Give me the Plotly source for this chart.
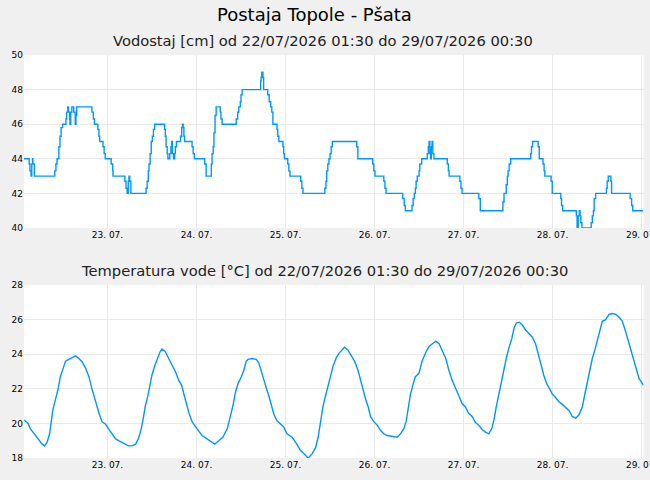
import pandas as pd
import plotly.graph_objects as go

# ---- data -------------------------------------------------------------
# hours after 22/07/2026 00:00 at which the water level changes (step data)
water_hours = [1.5, 2.9, 3.1, 3.4, 3.6, 3.8, 3.9, 4.3, 9.8, 10.1, 10.4, 10.9, 11.2, 11.5, 11.9,
               12.8, 13.0, 13.3, 13.5, 13.8, 13.9, 14.1, 14.4, 14.9, 15.3, 15.5, 15.7, 19.8, 20.2,
               20.5, 21.4, 21.7, 21.9, 22.8, 23.1, 23.4, 25.0, 25.4, 25.5, 28.7, 29.0, 29.3, 29.6,
               29.8, 30.0, 30.3, 34.4, 34.7, 35.0, 35.2, 35.5, 35.8, 36.1, 36.4, 36.7, 39.4, 39.6,
               39.8, 40.1, 40.3, 40.8, 41.1, 41.3, 41.5, 41.8, 42.1, 42.3, 42.6, 43.7, 44.0, 44.2,
               44.4, 44.6, 44.8, 46.8, 47.1, 47.4, 50.2, 50.6, 52.0, 52.2, 52.5, 52.7, 53.0, 53.3,
               54.4, 54.6, 54.9, 58.7, 59.1, 59.4, 59.8, 60.0, 60.3, 65.3, 65.4, 65.6, 65.9, 66.1,
               67.2, 67.6, 68.0, 68.3, 68.6, 69.7, 69.9, 70.2, 71.3, 71.5, 71.7, 72.6, 72.9, 73.2,
               76.1, 76.4, 76.7, 82.6, 82.9, 83.1, 83.4, 83.7, 84.0, 84.3, 84.6, 91.2, 91.5, 95.5,
               95.8, 96.1, 98.5, 98.8, 99.1, 103.6, 104.0, 104.3, 106.1, 106.4, 106.7, 107.0, 107.2,
               107.5, 108.0, 108.2, 108.7, 110.2, 110.5, 110.7, 110.9, 111.1, 111.3, 111.5, 111.7,
               112.0, 115.6, 115.9, 116.1, 119.0, 119.3, 119.6, 124.1, 124.5, 130.6, 130.9, 131.5,
               131.8, 132.0, 132.3, 132.7, 138.1, 138.3, 138.6, 140.1, 140.4, 141.4, 141.7, 141.9,
               143.6, 143.9, 146.2, 146.4, 146.7, 150.4, 150.6, 150.9, 151.2, 151.4, 151.6, 151.9,
               154.4, 154.7, 155.0, 155.2, 155.6, 158.5, 158.7, 159.0, 159.7, 159.9, 164.9, 165.3,
               165.6, 168.5]
water_cm = [44, 43.7, 43.3, 43, 43.7, 44, 43.7, 43, 43.3, 43.7, 44, 44.7, 45.3, 45.8, 46,
            46.3, 46.7, 47, 46.7, 46.3, 46, 46.7, 47, 46.7, 46, 46.5, 47, 46.7, 46.3,
            46, 45.7, 45.3, 45, 44.7, 44.3, 44, 43.7, 43.3, 43, 42.7, 42.3, 42, 42.7,
            43, 42.7, 42, 42.3, 42.7, 43.3, 43.7, 44.3, 45, 45.3, 45.7, 46, 45.7, 45.3,
            44.7, 44.3, 44, 44.3, 44.7, 45, 44.3, 44, 44.3, 44.7, 45, 45.3, 45.8, 46,
            45.8, 45.3, 45, 44.7, 44.3, 44, 43.7, 43, 43.7, 44.3, 44.7, 45.5, 46.5, 47,
            46.7, 46.3, 46, 46.3, 46.7, 47, 47.3, 47.7, 48, 48.5, 48.7, 49, 48.7, 48,
            47.7, 47.3, 47, 46.7, 46, 45.7, 45.3, 45, 44.7, 44.3, 44, 43.7, 43.3, 43,
            42.7, 42.3, 42, 42.3, 42.7, 43.3, 43.7, 44, 44.3, 44.7, 45, 44.7, 44, 43.7,
            43.3, 43, 42.7, 42.3, 42, 41.7, 41.3, 41, 41.3, 41.7, 42, 42.3, 42.7,
            43, 43.3, 43.7, 44, 44.3, 44.7, 45, 44.3, 44, 44.7, 45, 44.3,
            44, 43.7, 43.3, 43, 42.7, 42.3, 42, 41.7, 41, 41.5, 42, 42.5,
            43, 43.3, 43.7, 44, 44.3, 44.7, 45, 44.7, 44, 43.7, 43.3, 43,
            42.7, 42, 41.7, 41.3, 41, 40.7, 40, 40.7, 41, 40.7, 40.3, 40,
            40.3, 40.7, 41, 41.7, 42, 42.3, 42.7, 43, 42.7, 42, 41.7, 41.3,
            41, 41]

# hours after 22/07/2026 00:00 for the water temperature readings
temp_hours = [1.5, 2.6, 3.2, 4.6, 5.5, 6.4, 7.0, 7.7, 8.4, 8.9, 9.3, 10.0, 10.7, 11.3, 12.0,
              12.7, 13.6, 14.5, 15.4, 16.3, 17.2, 18.1, 19.0, 19.7, 20.3, 20.9, 21.7, 22.5,
              23.5, 24.4, 25.2, 26.2, 27.0, 27.9, 28.9, 29.7, 30.6, 31.6, 32.3, 32.9, 33.5,
              34.2, 34.9, 35.4, 36.0, 36.7, 37.4, 38.1, 38.7, 39.6, 40.5, 41.4, 42.3, 43.2,
              44.0, 44.6, 45.2, 45.9, 46.8, 47.7, 48.6, 49.5, 50.9, 51.8, 52.9, 54.0, 55.1,
              56.3, 57.2, 57.8, 58.5, 59.2, 60.1, 60.8, 61.4, 61.9, 63.0, 64.1, 64.8, 65.7,
              66.6, 67.5, 68.2, 68.9, 69.7, 70.7, 71.5, 72.4, 73.8, 74.9, 76.0, 77.2, 78.1,
              79.2, 80.1, 80.8, 81.4, 82.1, 82.8, 83.4, 84.1, 84.8, 85.7, 86.4, 87.3, 87.9,
              88.8, 89.7, 90.6, 91.5, 92.2, 92.9, 93.6, 94.3, 94.9, 95.8, 96.7, 97.6, 98.5,
              99.4, 100.8, 102.1, 103.0, 103.9, 104.5, 105.1, 105.7, 106.3, 107.0, 108.0,
              108.8, 109.8, 110.7, 111.6, 112.5, 113.4, 114.2, 115.2, 116.0, 116.9, 117.9,
              118.8, 119.6, 120.5, 121.3, 122.3, 123.2, 124.1, 125.0, 125.9, 126.8, 127.6,
              128.2, 128.8, 129.5, 130.3, 130.9, 131.5, 132.2, 133.0, 133.6, 134.2, 135.0,
              135.8, 136.7, 137.6, 138.5, 139.4, 140.3, 141.0, 141.6, 142.4, 143.2, 143.9,
              144.8, 145.7, 146.6, 147.5, 148.4, 149.3, 150.2, 151.1, 152.0, 152.7, 153.4,
              154.0, 154.7, 155.4, 156.0, 156.7, 157.4, 158.3, 159.2, 160.1, 161.0, 161.9,
              162.8, 163.7, 164.6, 165.5, 166.4, 167.3, 168.5]
temp_c = [20.2, 20.0, 19.7, 19.3, 19.0, 18.8, 18.7, 18.9, 19.4, 20.1, 20.8, 21.4, 22.0, 22.7, 23.1,
          23.6, 23.7, 23.8, 23.9, 23.75, 23.55, 23.2, 22.7, 22.1, 21.6, 21.15, 20.6, 20.1,
          19.95, 19.65, 19.4, 19.1, 19.0, 18.9, 18.8, 18.7, 18.7, 18.8, 19.1, 19.5, 20.1,
          21.0, 21.6, 22.2, 22.8, 23.3, 23.75, 24.1, 24.3, 24.15, 23.75, 23.4, 23.0, 22.5,
          22.2, 21.7, 21.15, 20.65, 20.1, 19.8, 19.55, 19.3, 19.1, 19.0, 18.8, 19.0, 19.2,
          19.7, 20.4, 21.0, 21.8, 22.3, 22.7, 23.1, 23.6, 23.7, 23.75, 23.7, 23.5, 22.8,
          22.2, 21.6, 21.05, 20.5, 20.15, 19.95, 19.8, 19.4, 19.2, 18.85, 18.45, 18.2, 18.0,
          18.25, 18.6, 19.2, 20.1, 21.0, 21.6, 22.2, 22.7, 23.3, 23.8, 24.05, 24.25, 24.4,
          24.25, 23.95, 23.6, 23.1, 22.5, 22.0, 21.4, 20.95, 20.4, 20.1, 19.9, 19.6, 19.4,
          19.3, 19.25, 19.2, 19.4, 19.7, 20.1, 21.0, 21.7, 22.2, 22.7, 22.9,
          23.6, 24.1, 24.45, 24.6, 24.75, 24.6, 24.25, 23.75, 23.1, 22.5, 22.0,
          21.55, 21.15, 20.95, 20.6, 20.4, 20.05, 19.9, 19.65, 19.5, 19.4, 19.7,
          20.2, 20.95, 21.7, 22.4, 23.2, 23.75, 24.35, 24.9, 25.5, 25.8, 25.85,
          25.7, 25.4, 25.2, 25.0, 24.6, 23.95, 23.3, 22.8, 22.3, 22.0, 21.7,
          21.5, 21.25, 21.1, 20.95, 20.75, 20.4, 20.3, 20.5, 20.95, 21.7, 22.4,
          23.1, 23.75, 24.25, 24.7, 25.3, 25.9, 26.0, 26.3, 26.35, 26.3, 26.15,
          25.9, 25.3, 24.6, 23.85, 23.15, 22.6, 22.2]

station_title = "Postaja Topole - Pšata"
title_level = "Vodostaj [cm] od 22/07/2026 01:30 do 29/07/2026 00:30"
title_temp = "Temperatura vode [°C] od 22/07/2026 01:30 do 29/07/2026 00:30"
x_start, x_end = "2026-07-22 01:30", "2026-07-29 00:30"
level_ticks = [40, 42, 44, 46, 48, 50]
temp_ticks = [18, 20, 22, 24, 26, 28]

# ---- build ------------------------------------------------------------
base = pd.Timestamp("2026-07-22 00:00")
water_t = base + pd.to_timedelta(water_hours, unit="h")
temp_t = base + pd.to_timedelta(temp_hours, unit="h")

LINE = "#0096ff"
FONT = "DejaVu Sans"
W, H = 650, 480

fig = go.Figure()
fig.add_trace(go.Scatter(x=water_t, y=water_cm, mode="lines", line_shape="hv",
                         line=dict(color=LINE, width=1.4), xaxis="x", yaxis="y",
                         showlegend=False, hoverinfo="skip"))
fig.add_trace(go.Scatter(x=temp_t, y=temp_c, mode="lines",
                         line=dict(color=LINE, width=1.4), xaxis="x2", yaxis="y2",
                         showlegend=False, hoverinfo="skip"))

xd = [24 / W, 643.5 / W]
common_x = dict(type="date", range=[x_start, x_end], dtick=86400000,
                tick0="2026-07-23 00:00", tickformat="%d. %m.", showgrid=True,
                gridcolor="#e9e9e9", gridwidth=1, zeroline=False, showline=False,
                ticks="", ticklabeloverflow="allow",
                tickfont=dict(family=FONT, size=9, color="#000"),
                automargin=False, fixedrange=True, domain=xd)
common_y = dict(showgrid=True, gridcolor="#e9e9e9", gridwidth=1, zeroline=False,
                showline=False, ticks="", tickfont=dict(family=FONT, size=9, color="#000"),
                automargin=False, fixedrange=True)

fig.update_layout(
    width=W, height=H,
    margin=dict(l=0, r=0, t=0, b=0),
    paper_bgcolor="#f0f0f0", plot_bgcolor="#ffffff",
    font=dict(family=FONT),
    xaxis=dict(common_x, anchor="y"),
    yaxis=dict(common_y, range=[40, 50], tickvals=level_ticks, anchor="x",
               domain=[1 - 228 / H, 1 - 55 / H]),
    xaxis2=dict(common_x, anchor="y2"),
    yaxis2=dict(common_y, range=[18, 28], tickvals=temp_ticks, anchor="x2",
                domain=[1 - 458 / H, 1 - 285 / H]),
    annotations=[
        dict(text=station_title, x=314.5 / W, y=1 - 14 / H, xref="paper", yref="paper",
             showarrow=False, xanchor="center", yanchor="middle",
             font=dict(family=FONT, size=18, color="#000")),
        dict(text=title_level, x=323 / W, y=1 - 40 / H, xref="paper", yref="paper",
             showarrow=False, xanchor="center", yanchor="middle",
             font=dict(family=FONT, size=14.7, color="#222")),
        dict(text=title_temp, x=324.5 / W, y=1 - 270 / H, xref="paper", yref="paper",
             showarrow=False, xanchor="center", yanchor="middle",
             font=dict(family=FONT, size=14.7, color="#222")),
    ],
)

fig.write_html("out.html", config={"displayModeBar": False})
